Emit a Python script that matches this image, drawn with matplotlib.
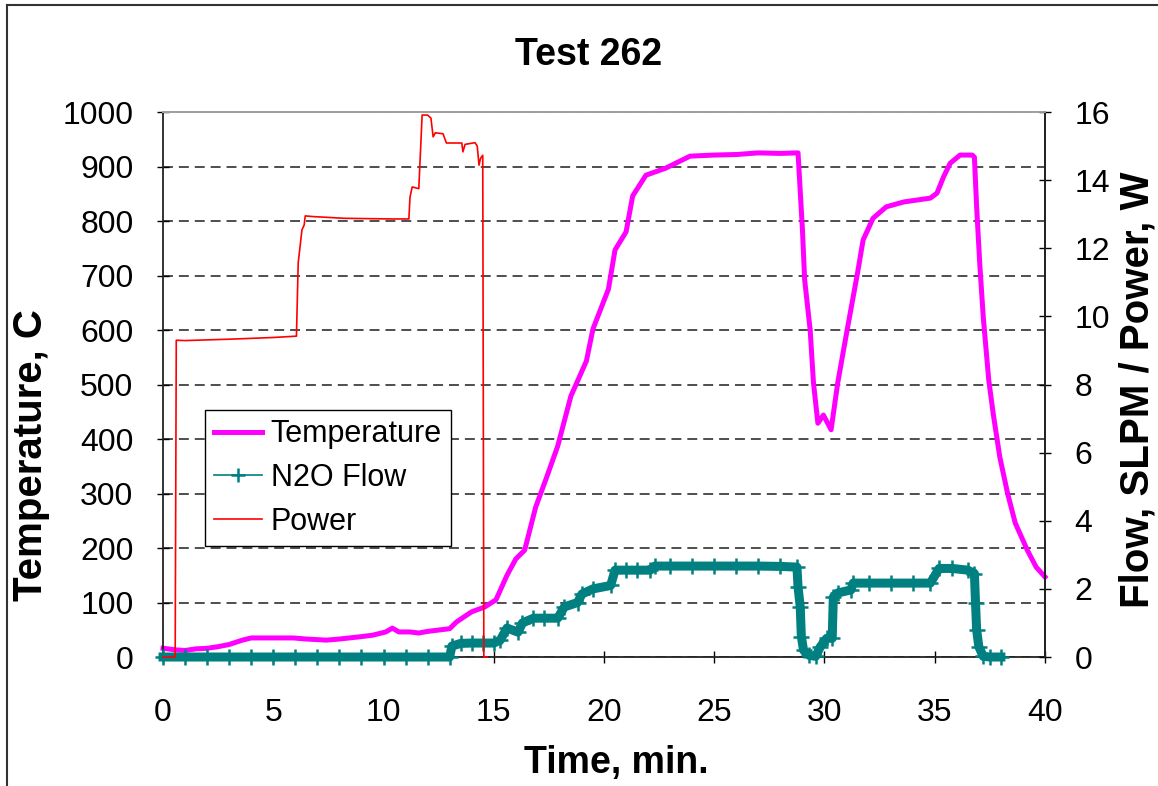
import matplotlib
matplotlib.use('Agg')
import matplotlib.pyplot as plt
from matplotlib.lines import Line2D

plt.rcParams['font.family'] = ['Liberation Sans', 'DejaVu Sans']

# Temperature, C (left axis)
temp_t = [0.0, 0.6, 1.0, 1.5, 2.0, 2.5, 3.0, 3.6, 4.0, 5.0, 5.9, 6.5, 7.4, 8.0, 8.9,
          9.5, 10.1, 10.4, 10.7, 11.2, 11.6, 12.0, 12.6, 13.0, 13.3, 13.7, 14.0, 14.6,
          15.1, 15.6, 16.0, 16.4, 16.9, 17.4, 17.9, 18.5, 19.2, 19.5, 20.2, 20.5, 21.0,
          21.3, 21.9, 22.8, 23.9, 25.0, 26.0, 27.0, 28.0, 28.8, 29.0, 29.1, 29.35, 29.5,
          29.7, 29.95, 30.3, 30.6, 31.0, 31.5, 31.75, 32.2, 32.8, 33.6, 34.8, 35.1, 35.4,
          35.7, 36.15, 36.7, 36.8, 36.9, 37.05, 37.2, 37.45, 37.65, 37.95, 38.3, 38.65,
          39.2, 39.6, 40.0]
temp_c = [16, 13, 12, 15, 16, 19, 23, 31, 35, 35, 35, 33, 31, 33, 37,
          40, 46, 53, 46, 46, 44, 47, 50, 52, 64, 75, 83, 92,
          105, 150, 180, 196, 275, 330, 387, 479, 543, 602, 675, 747, 780,
          846, 884, 897, 919, 921, 922, 925, 924, 925, 784, 692, 600, 503,
          429, 444, 417, 503, 594, 705, 765, 805, 826, 835, 842, 851, 881,
          906, 921, 921, 917, 826, 716, 624, 508, 447, 367, 301, 246,
          196, 165, 147]

# N2O Flow, SLPM (right axis)
flow_t = [0.0, 1.0, 2.0, 3.0, 4.0, 5.0, 6.0, 7.0, 8.0, 9.0, 10.0, 11.0, 12.0, 13.0,
          13.1, 13.5, 14.0, 14.5, 15.0, 15.3, 15.6, 16.1, 16.3, 16.8, 17.3, 17.9, 18.2,
          18.8, 19.0, 19.5, 20.3, 20.5, 21.0, 21.5, 22.1, 22.3, 23.0, 24.0, 25.0, 26.0,
          27.0, 28.0, 28.75, 28.8, 28.9, 28.95, 29.05, 29.3, 29.6, 29.8, 30.1, 30.35,
          30.4, 30.6, 31.2, 31.3, 32.0, 33.0, 34.0, 34.8, 35.2, 35.8, 36.5, 36.8, 36.85,
          36.9, 37.0, 37.2, 37.5, 38.0]
flow_v = [0.0, 0.0, 0.0, 0.0, 0.0, 0.0, 0.0, 0.0, 0.0, 0.0, 0.0, 0.0, 0.0, 0.0,
          0.32, 0.40, 0.41, 0.41, 0.41, 0.5, 0.85, 0.73, 1.0, 1.14, 1.14, 1.14, 1.47,
          1.6, 1.85, 2.0, 2.1, 2.55, 2.55, 2.55, 2.55, 2.67, 2.67, 2.67, 2.67, 2.67,
          2.67, 2.66, 2.64, 2.06, 1.47, 0.6, 0.2, 0.05, 0.02, 0.29, 0.55, 0.55,
          1.76, 1.88, 1.97, 2.17, 2.17, 2.17, 2.17, 2.17, 2.6, 2.6, 2.55, 2.45, 1.58,
          0.8, 0.3, 0.02, 0.0, 0.0]

# Power, W (right axis)
power_t = [0.0, 0.55, 0.6, 1.0, 3.0, 5.0, 6.05, 6.13, 6.3, 6.4, 6.45, 6.8, 8.2, 10.4,
           11.15, 11.2, 11.3, 11.6, 11.75, 12.0, 12.15, 12.25, 12.35, 12.7, 12.85,
           13.55, 13.6, 13.7, 14.15, 14.25, 14.33, 14.4, 14.5, 14.55, 14.7]
power_w = [0, 0, 9.30, 9.29, 9.33, 9.38, 9.42, 11.57, 12.54, 12.68, 12.95, 12.93, 12.88,
           12.86, 12.86, 13.5, 13.8, 13.75, 15.91, 15.91, 15.82, 15.27, 15.39, 15.36,
           15.09, 15.09, 14.83, 15.05, 15.1, 15.0, 14.44, 14.64, 14.73, 0, 0]

magenta = '#FF00FF'
teal = '#008080'
red = '#FF0000'

fig = plt.figure(figsize=(11.58, 7.86), dpi=100)
ax = fig.add_axes([0.1408, 0.1641, 0.7616, 0.6934])
ax2 = ax.twinx()

ax.set_xlim(0, 40)
ax.set_ylim(0, 1000)
ax2.set_ylim(0, 16)
ax.set_xticks(range(0, 41, 5))
ax.set_yticks(range(0, 1001, 100))
ax2.set_yticks(range(0, 17, 2))

ax.grid(axis='y', color='#404040', lw=1.3, ls=(0, (5.5, 3.3)))
ax.set_axisbelow(True)

ax.plot(temp_t, temp_c, color=magenta, lw=3.6, solid_joinstyle='round', clip_on=False)
ax2.plot(flow_t, flow_v, color=teal, lw=6.5, marker='+', ms=11, mew=1.8, clip_on=False)
ax2.plot(power_t, power_w, color=red, lw=1.2, clip_on=False)

for a in (ax, ax2):
    for s in a.spines.values():
        s.set_color('#222222')
        s.set_linewidth(1.3)
    a.spines['top'].set_color('#a0a0a0')
ax2.spines['left'].set_visible(False)
ax2.spines['bottom'].set_visible(False)

ax.tick_params(axis='x', direction='inout', length=8.6, width=1, labelsize=23, pad=25)
ax.tick_params(axis='y', direction='inout', length=8.6, width=1, labelsize=23, pad=17)
ax2.tick_params(axis='y', direction='inout', length=8.6, width=1, labelsize=23, pad=17)

ax.set_xlabel('Time, min.', fontsize=27, fontweight='bold')
ax.xaxis.set_label_coords(0.514, -0.161)
ax.set_ylabel('Temperature, C', fontsize=29, fontweight='bold')
ax.yaxis.set_label_coords(-0.128, 0.37)
ax2.set_ylabel('Flow, SLPM / Power, W', fontsize=29, fontweight='bold', rotation=90)
ax2.yaxis.set_label_coords(1.083, 0.49)

fig.text(0.508, 0.930, 'Test 262', fontsize=27, fontweight='bold', ha='center', va='center')

handles = [Line2D([], [], color=magenta, lw=3.6),
           Line2D([], [], color=teal, lw=1.2, marker='+', ms=10, mew=1.8),
           Line2D([], [], color=red, lw=1.2)]
leg = ax2.legend(handles, ['Temperature', 'N2O Flow', 'Power'], loc='upper left',
                 bbox_to_anchor=(0.0476, 0.453), borderaxespad=0, fontsize=22,
                 fancybox=False, framealpha=1, edgecolor='black', handlelength=1.55,
                 handletextpad=0.3, borderpad=0.3, labelspacing=0.45)
leg.get_frame().set_linewidth(1.0)

# outer chart frame (left and top edges visible)
fig.add_artist(Line2D([0.006, 0.006], [0, 0.9936], transform=fig.transFigure,
                      color='#333333', lw=1.5))
fig.add_artist(Line2D([0.006, 1.0], [0.9936, 0.9936], transform=fig.transFigure,
                      color='#333333', lw=1.5))

fig.savefig('out.png', dpi=100)
